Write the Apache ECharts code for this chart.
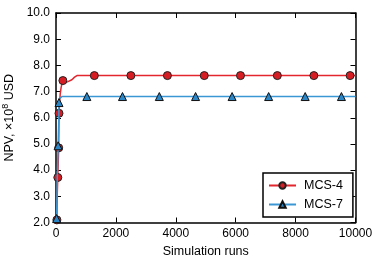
<!DOCTYPE html>
<html><head><meta charset="utf-8">
<script src="https://cdn.jsdelivr.net/npm/echarts@6/dist/echarts.min.js"></script>
<style>html,body{margin:0;padding:0;background:#fff}#c{width:374px;height:262px}</style>
</head><body><div id="c"></div>
<script>
// MCS-4 convergence curve
const mcs4Runs = [0, 20, 40, 140, 170, 200, 330, 400, 530, 620, 700, 1000, 10000];
const mcs4Npv  = [2.0, 2.05, 3.0, 6.9, 7.15, 7.3, 7.35, 7.38, 7.45, 7.55, 7.61, 7.61, 7.61];
// MCS-4 marked points
const mcs4MarkRuns = [30, 60, 90, 100, 230, 1280, 2500, 3720, 4950, 6160, 7390, 8610, 9820];
const mcs4MarkNpv  = [2.1, 3.72, 4.85, 6.17, 7.42, 7.61, 7.61, 7.61, 7.61, 7.61, 7.61, 7.61, 7.61];
// MCS-7 convergence curve
const mcs7Runs = [0, 10, 40, 90, 115, 140, 200, 10000];
const mcs7Npv  = [2.0, 2.05, 3.6, 5.8, 6.72, 6.79, 6.81, 6.81];
// MCS-7 marked points
const mcs7MarkRuns = [20, 70, 100, 1030, 2220, 3450, 4660, 5880, 7100, 8320, 9530];
const mcs7MarkNpv  = [2.15, 4.93, 6.58, 6.81, 6.81, 6.81, 6.81, 6.81, 6.81, 6.81, 6.81];

const xTicks = [0, 2000, 4000, 6000, 8000, 10000];
const yTicks = [2, 3, 4, 5, 6, 7, 8, 9, 10];

function build(runs, npv, mRuns, mNpv) {
  const pts = [];
  runs.forEach((x, i) => pts.push({ value: [x, npv[i]], symbol: 'none' }));
  mRuns.forEach((x, i) => pts.push({ value: [x, mNpv[i]] }));
  pts.sort((a, b) => a.value[0] - b.value[0]);
  return pts;
}

const FONT = 'Liberation Sans';
const chart = echarts.init(document.getElementById('c'), null, { renderer: 'canvas' });
const axisLine = { show: true, onZero: false, lineStyle: { color: '#000', width: 1.5 } };
const tick = { show: true, inside: true, length: 5, lineStyle: { color: '#000', width: 1 } };

chart.setOption({
  animation: false,
  backgroundColor: '#fff',
  textStyle: { fontFamily: FONT },
  grid: { left: 56, right: 18.5, top: 13, bottom: 39.5, containLabel: false, outerBoundsMode: 'none' },
  legend: {
    orient: 'vertical', left: 263, top: 173,
    backgroundColor: '#fff', borderColor: '#000', borderWidth: 1.5, borderRadius: 0,
    padding: [6, 10, 6, 5], itemGap: 6, itemWidth: 27, itemHeight: 8,
    textStyle: { fontFamily: FONT, fontSize: 12.5, color: '#000', padding: [0, 0, 0, 3] },
    data: ['MCS-4', 'MCS-7']
  },
  xAxis: [{
    type: 'value', min: xTicks[0], max: xTicks[xTicks.length - 1], interval: 2000,
    name: 'Simulation runs', nameLocation: 'middle', nameGap: 23,
    nameTextStyle: { fontFamily: FONT, fontSize: 12.5, color: '#000' },
    axisLine, axisTick: tick, splitLine: { show: false },
    axisLabel: { color: '#000', fontSize: 12, fontFamily: FONT, margin: 5, formatter: v => String(v) }
  }, {
    type: 'value', position: 'top', min: xTicks[0], max: xTicks[xTicks.length - 1], interval: 2000,
    axisLine, axisTick: tick, splitLine: { show: false }, axisLabel: { show: false }
  }],
  yAxis: [{
    type: 'value', min: yTicks[0], max: yTicks[yTicks.length - 1], interval: 1,
    name: 'NPV, ×10{sup|8} USD', nameLocation: 'middle', nameGap: 37,
    nameTextStyle: {
      fontFamily: FONT, fontSize: 12.5, color: '#000',
      rich: { sup: { fontSize: 9, fontFamily: FONT, color: '#000', padding: [0, 0, 7, 0] } }
    },
    axisLine, axisTick: tick, splitLine: { show: false },
    axisLabel: { color: '#000', fontSize: 12, fontFamily: FONT, margin: 6, formatter: v => v.toFixed(1) }
  }, {
    type: 'value', position: 'right', min: yTicks[0], max: yTicks[yTicks.length - 1], interval: 1,
    axisLine, axisTick: tick, splitLine: { show: false }, axisLabel: { show: false }
  }],
  series: [{
    name: 'MCS-4', type: 'line', symbol: 'circle', symbolSize: 8, showSymbol: true,
    lineStyle: { color: '#e3262d', width: 1.5 },
    itemStyle: { color: '#d71d24', borderColor: '#222', borderWidth: 1 },
    data: build(mcs4Runs, mcs4Npv, mcs4MarkRuns, mcs4MarkNpv), z: 3
  }, {
    name: 'MCS-7', type: 'line', symbol: 'triangle', symbolSize: 8, showSymbol: true,
    lineStyle: { color: '#3b97d3', width: 1.5 },
    itemStyle: { color: '#2a86c6', borderColor: '#111', borderWidth: 1 },
    data: build(mcs7Runs, mcs7Npv, mcs7MarkRuns, mcs7MarkNpv), z: 4
  }]
});
</script></body></html>
